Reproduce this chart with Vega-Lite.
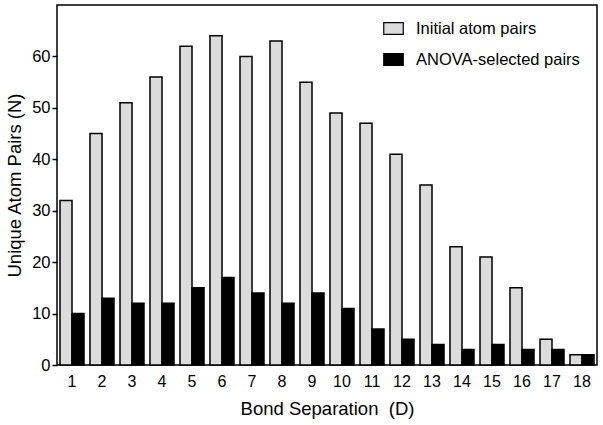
{
  "$schema": "https://vega.github.io/schema/vega-lite/v6.json",
  "width": 540,
  "height": 360,
  "autosize": {"type": "none"},
  "padding": {"left": 57, "top": 5, "right": 6, "bottom": 60},
  "background": "white",
  "config": {
    "font": "Liberation Sans",
    "view": {"stroke": "black", "strokeWidth": 1.5}
  },
  "data": {
    "values": [
      {"d": 1, "series": "Initial atom pairs", "n": 32},
      {"d": 2, "series": "Initial atom pairs", "n": 45},
      {"d": 3, "series": "Initial atom pairs", "n": 51},
      {"d": 4, "series": "Initial atom pairs", "n": 56},
      {"d": 5, "series": "Initial atom pairs", "n": 62},
      {"d": 6, "series": "Initial atom pairs", "n": 64},
      {"d": 7, "series": "Initial atom pairs", "n": 60},
      {"d": 8, "series": "Initial atom pairs", "n": 63},
      {"d": 9, "series": "Initial atom pairs", "n": 55},
      {"d": 10, "series": "Initial atom pairs", "n": 49},
      {"d": 11, "series": "Initial atom pairs", "n": 47},
      {"d": 12, "series": "Initial atom pairs", "n": 41},
      {"d": 13, "series": "Initial atom pairs", "n": 35},
      {"d": 14, "series": "Initial atom pairs", "n": 23},
      {"d": 15, "series": "Initial atom pairs", "n": 21},
      {"d": 16, "series": "Initial atom pairs", "n": 15},
      {"d": 17, "series": "Initial atom pairs", "n": 5},
      {"d": 18, "series": "Initial atom pairs", "n": 2},
      {"d": 1, "series": "ANOVA-selected pairs", "n": 10},
      {"d": 2, "series": "ANOVA-selected pairs", "n": 13},
      {"d": 3, "series": "ANOVA-selected pairs", "n": 12},
      {"d": 4, "series": "ANOVA-selected pairs", "n": 12},
      {"d": 5, "series": "ANOVA-selected pairs", "n": 15},
      {"d": 6, "series": "ANOVA-selected pairs", "n": 17},
      {"d": 7, "series": "ANOVA-selected pairs", "n": 14},
      {"d": 8, "series": "ANOVA-selected pairs", "n": 12},
      {"d": 9, "series": "ANOVA-selected pairs", "n": 14},
      {"d": 10, "series": "ANOVA-selected pairs", "n": 11},
      {"d": 11, "series": "ANOVA-selected pairs", "n": 7},
      {"d": 12, "series": "ANOVA-selected pairs", "n": 5},
      {"d": 13, "series": "ANOVA-selected pairs", "n": 4},
      {"d": 14, "series": "ANOVA-selected pairs", "n": 3},
      {"d": 15, "series": "ANOVA-selected pairs", "n": 4},
      {"d": 16, "series": "ANOVA-selected pairs", "n": 3},
      {"d": 17, "series": "ANOVA-selected pairs", "n": 3},
      {"d": 18, "series": "ANOVA-selected pairs", "n": 2}
    ]
  },
  "mark": {"type": "bar", "stroke": "black", "strokeWidth": 1.5},
  "encoding": {
    "x": {
      "field": "d",
      "type": "ordinal",
      "scale": {"paddingInner": 0.2, "paddingOuter": 0.1},
      "axis": {
        "title": "Bond Separation\u00a0\u00a0(D)",
        "titleFontSize": 18.5,
        "titleFontWeight": "normal",
        "titleColor": "black",
        "titlePadding": 10,
        "labelAngle": 0,
        "labelFontSize": 16,
        "labelColor": "black",
        "labelPadding": 8,
        "ticks": false,
        "domain": false
      }
    },
    "xOffset": {
      "field": "series",
      "type": "nominal",
      "sort": ["Initial atom pairs", "ANOVA-selected pairs"],
      "scale": {"paddingInner": 0}
    },
    "y": {
      "field": "n",
      "type": "quantitative",
      "scale": {"domain": [0, 70], "nice": false},
      "axis": {
        "title": "Unique Atom Pairs (N)",
        "titleFontSize": 18.5,
        "titleFontWeight": "normal",
        "titleColor": "black",
        "titlePadding": 7,
        "values": [0, 10, 20, 30, 40, 50, 60],
        "labelFontSize": 16.5,
        "labelColor": "black",
        "labelPadding": 2,
        "tickColor": "black",
        "tickSize": 5,
        "tickWidth": 1.5,
        "grid": false,
        "domain": false
      }
    },
    "fill": {
      "field": "series",
      "type": "nominal",
      "sort": ["Initial atom pairs", "ANOVA-selected pairs"],
      "scale": {"domain": ["Initial atom pairs", "ANOVA-selected pairs"], "range": ["#dcdcdc", "black"]},
      "legend": {
        "title": null,
        "orient": "none",
        "legendX": 326,
        "legendY": 13,
        "labelFontSize": 16.5,
        "labelColor": "black",
        "labelLimit": 400,
        "symbolType": "M-1,-0.6H1V0.6H-1Z",
        "symbolSize": 380,
        "symbolStrokeColor": "black",
        "symbolStrokeWidth": 1.2,
        "rowPadding": 12,
        "labelOffset": 12
      }
    }
  }
}
